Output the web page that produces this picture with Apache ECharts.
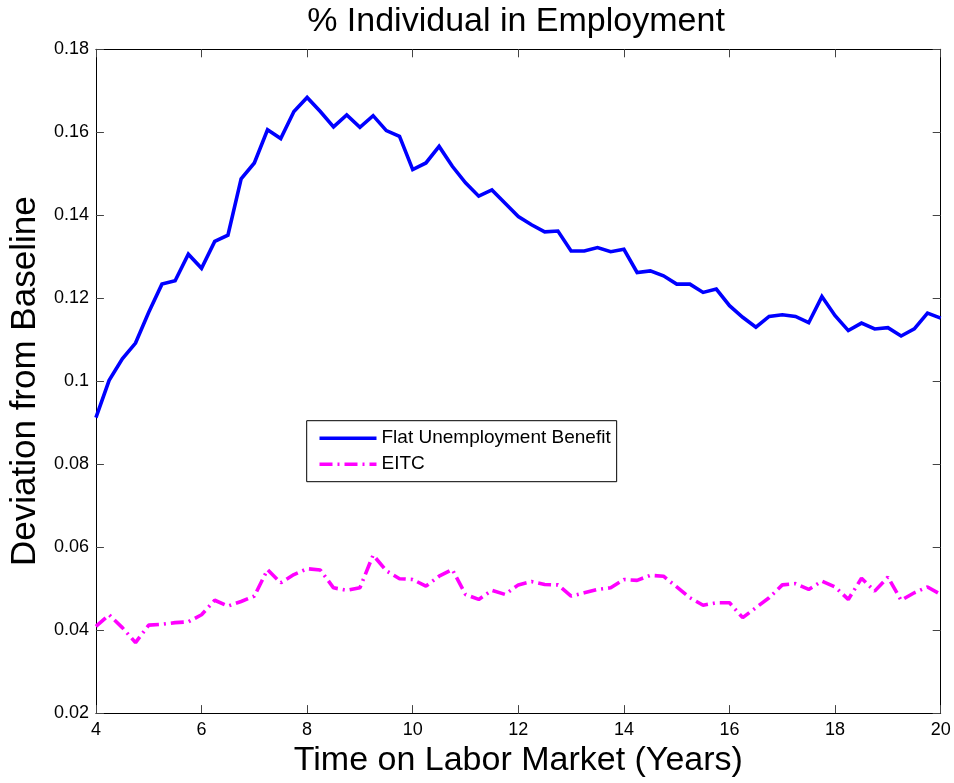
<!DOCTYPE html>
<html>
<head>
<meta charset="utf-8">
<script src="https://cdn.jsdelivr.net/npm/echarts@6/dist/echarts.min.js"></script>
<style>
html,body{margin:0;padding:0;background:#fff;}
#chart{width:954px;height:783px;}
</style>
</head>
<body>
<div id="chart"></div>
<script>
var years = [4,4.25,4.5,4.75,5,5.25,5.5,5.75,6,6.25,6.5,6.75,7,7.25,7.5,7.75,8,8.25,8.5,8.75,9,9.25,9.5,9.75,10,10.25,10.5,10.75,11,11.25,11.5,11.75,12,12.25,12.5,12.75,13,13.25,13.5,13.75,14,14.25,14.5,14.75,15,15.25,15.5,15.75,16,16.25,16.5,16.75,17,17.25,17.5,17.75,18,18.25,18.5,18.75,19,19.25,19.5,19.75,20];

var flatUB = [0.0912,0.1002,0.1054,0.1092,0.1166,0.1234,0.1242,0.1306,0.1272,0.1337,0.1352,0.1488,0.1526,0.1606,0.1585,0.1650,0.1684,0.1650,0.1613,0.1642,0.1612,0.1640,0.1604,0.1590,0.1510,0.1526,0.1566,0.1518,0.1478,0.1446,0.1461,0.1429,0.1397,0.1377,0.1360,0.1362,0.1314,0.1314,0.1322,0.1312,0.1318,0.1262,0.1266,0.1254,0.1234,0.1234,0.1214,0.1222,0.1182,0.1154,0.1130,0.1156,0.1160,0.1156,0.1141,0.1204,0.1158,0.1122,0.1140,0.1126,0.1129,0.1109,0.1126,0.1164,0.1152];

var eitc = [0.0409,0.0437,0.0406,0.0370,0.0412,0.0414,0.0418,0.0420,0.0437,0.0472,0.0458,0.0469,0.0482,0.0546,0.0514,0.0534,0.0548,0.0545,0.0502,0.0496,0.0502,0.0581,0.0543,0.0524,0.0522,0.0506,0.0530,0.0546,0.0486,0.0474,0.0496,0.0486,0.0509,0.0517,0.0510,0.0509,0.0482,0.0490,0.0498,0.0502,0.0522,0.0520,0.0532,0.0530,0.0504,0.0478,0.0460,0.0466,0.0466,0.0430,0.0454,0.0478,0.0509,0.0512,0.0498,0.0518,0.0504,0.0474,0.0525,0.0494,0.0528,0.0472,0.0490,0.0504,0.0486];

var seriesNames = ['Flat Unemployment Benefit','EITC'];
var titleText = '% Individual in Employment';
var xName = 'Time on Labor Market (Years)';
var yName = 'Deviation from Baseline';

function pairs(xs, ys){ return xs.map(function(x,i){ return [x, ys[i]]; }); }

var FONT = '"Liberation Sans", Arial, Helvetica, sans-serif';
var chart = echarts.init(document.getElementById('chart'), null, {renderer:'canvas'});

var axisLine = {show:true, lineStyle:{color:'#000', width:1}};
var axisTick = {show:true, inside:true, length:8, lineStyle:{color:'#444', width:1}};

chart.setOption({
  animation:false,
  backgroundColor:'#fff',
  title:{
    text:titleText, left:511, top:0, textAlign:'center',
    textStyle:{fontFamily:FONT, fontSize:34, fontWeight:'normal', color:'#000'}
  },
  grid:{left:92.7, right:13.3, top:49.3, bottom:68, containLabel:false},
  legend:{
    data:seriesNames, orient:'vertical', left:306.7, top:420.7,
    padding:[8,6,8,11], itemGap:7, itemWidth:57, itemHeight:14,
    backgroundColor:'#fff', borderColor:'#000', borderWidth:1, borderRadius:0,
    itemStyle:{opacity:0},
    lineStyle:{width:3.6},
    textStyle:{fontFamily:FONT, fontSize:19, color:'#000'}
  },
  xAxis:[{
    type:'value', min:4, max:20, interval:2, position:'bottom',
    name:xName, nameLocation:'middle', nameGap:25,
    nameTextStyle:{fontFamily:FONT, fontSize:34, color:'#000'},
    axisLine:axisLine, axisTick:axisTick, splitLine:{show:false},
    axisLabel:{fontFamily:FONT, fontSize:18, color:'#000', margin:8}
  },{
    type:'value', min:4, max:20, interval:2, position:'top',
    axisLine:axisLine, axisTick:axisTick, splitLine:{show:false},
    axisLabel:{show:false}
  }],
  yAxis:[{
    type:'value', min:0.02, max:0.18, interval:0.02, position:'left',
    name:yName, nameLocation:'middle', nameGap:51,
    nameTextStyle:{fontFamily:FONT, fontSize:35, color:'#000'},
    axisLine:axisLine, axisTick:axisTick, splitLine:{show:false},
    axisLabel:{fontFamily:FONT, fontSize:18, color:'#000', margin:7,
      formatter:function(v){ return String(+v.toFixed(2)); }}
  },{
    type:'value', min:0.02, max:0.18, interval:0.02, position:'right',
    axisLine:axisLine, axisTick:axisTick, splitLine:{show:false},
    axisLabel:{show:false}
  }],
  series:[{
    name:seriesNames[0], type:'line', xAxisIndex:0, yAxisIndex:0,
    data:pairs(years, flatUB), symbol:'none', showSymbol:false,
    lineStyle:{color:'#0000ff', width:3.6, join:'miter'}, itemStyle:{color:'#0000ff'}
  },{
    name:seriesNames[1], type:'line', xAxisIndex:0, yAxisIndex:0,
    data:pairs(years, eitc), symbol:'none', showSymbol:false,
    lineStyle:{color:'#ff00ff', width:3.6, type:[13,5,2,5]}, itemStyle:{color:'#ff00ff'}
  }]
});
</script>
</body>
</html>
